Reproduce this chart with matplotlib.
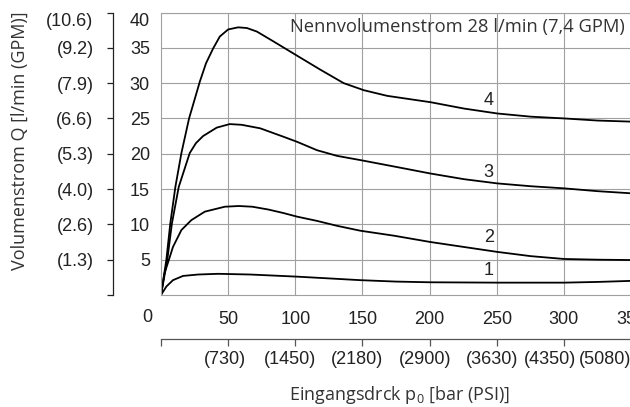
import matplotlib.pyplot as plt
import matplotlib.transforms as mtransforms

# pressure in bar, flow in l/min
curve_4_x = [0, 4.0, 6.9, 10.7, 15.2, 20.9, 28.9, 33.5, 38.8, 43.8, 50, 57.5, 64, 71.4,
             83.8, 101.2, 118.7, 136, 151, 168.4, 200.7, 225.6, 250.5, 275.4, 300.2,
             325.2, 350]
curve_4_y = [0, 5.0, 10.1, 15.3, 20.1, 25.0, 30.2, 32.8, 34.9, 36.6, 37.6, 37.9, 37.8, 37.3,
             35.9, 33.9, 31.9, 30.0, 29.0, 28.2, 27.3, 26.4, 25.7, 25.25, 25.0,
             24.7, 24.55]

curve_3_x = [0, 4.7, 8.1, 13.2, 21.4, 26, 31.3, 41.5, 51.2, 60, 73.9, 91.3, 101.2, 116.2,
             131.1, 148.5, 173.4, 200.7, 225.6, 250.5, 275.4, 300.2, 325.2, 350]
curve_3_y = [0, 5.0, 10.1, 15.3, 20.1, 21.5, 22.5, 23.7, 24.2, 24.1, 23.6, 22.4, 21.7, 20.5,
             19.7, 19.1, 18.2, 17.2, 16.4, 15.8, 15.4, 15.1, 14.7, 14.4]

curve_2_x = [0, 2.5, 5.9, 8.9, 15.2, 22.6, 32.6, 47.5, 58, 68, 80, 91.3, 101.2, 116,
             131, 148.5, 173.4, 200.7, 225.6, 250.5, 275.4, 300.2, 325.2, 350]
curve_2_y = [0, 3.0, 5.0, 6.8, 9.2, 10.6, 11.8, 12.5, 12.6, 12.5, 12.1, 11.6, 11.1, 10.5,
             9.8, 9.1, 8.4, 7.5, 6.8, 6.1, 5.5, 5.1, 5.0, 4.95]

curve_1_x = [0, 4.0, 8.9, 16.4, 27.6, 42.5, 66.5, 101.2, 125, 148.5, 175, 200.7, 250.5,
             300.2, 325, 350]
curve_1_y = [0, 1.2, 2.1, 2.7, 2.9, 3.0, 2.9, 2.6, 2.35, 2.1, 1.9, 1.8, 1.75,
             1.75, 1.85, 2.0]

curves = [(curve_1_x, curve_1_y), (curve_2_x, curve_2_y),
          (curve_3_x, curve_3_y), (curve_4_x, curve_4_y)]
curve_names = ['1', '2', '3', '4']
curve_label_pos = [(244, 3.4), (244, 8.1), (244, 17.4), (244, 27.6)]

bar_ticks = [50, 100, 150, 200, 250, 300, 350]
psi_labels = ['(730)', '(1450)', '(2180)', '(2900)', '(3630)', '(4350)', '(5080)']
psi_label_x = [47.8, 96.3, 146.3, 197, 246.8, 289.6, 330.6]

lpm_ticks = [5, 10, 15, 20, 25, 30, 35, 40]
gpm_labels = ['(1.3)', '(2.6)', '(4.0)', '(5.3)', '(6.6)', '(7.9)', '(9.2)', '(10.6)']

num_font = ['Liberation Sans', 'DejaVu Sans']
txt_font = ['Open Sans', 'DejaVu Sans']
grid_c = '#a0a0a0'
dark = '#222222'

fig = plt.figure(figsize=(6.3, 4.07), dpi=100)
ax = fig.add_axes([161 / 630, 1 - 295 / 407, 470 / 630, 282.5 / 407])

for cx, cy in curves:
    ax.plot(cx, cy, color='black', lw=1.3, solid_joinstyle='round')
for name, (lx, ly) in zip(curve_names, curve_label_pos):
    ax.text(lx, ly, name, ha='center', va='center', fontsize=13,
            family=num_font, color=dark)

ax.set_xlim(0, 350)
ax.set_ylim(0, 40)
ax.set_xticks(bar_ticks)
ax.set_xticklabels([str(t) for t in bar_ticks], family=num_font, fontsize=13, color=dark)
ax.set_yticks(lpm_ticks)
ax.set_yticklabels([str(t) for t in lpm_ticks], family=num_font, fontsize=13, color=dark)
ax.tick_params(axis='x', length=0, pad=11.5)
ax.tick_params(axis='y', length=0, pad=8)
ax.get_yticklabels()[-1].set_va('top')
ax.grid(True, color=grid_c, lw=0.8)
for sp in ax.spines.values():
    sp.set_color(grid_c)
    sp.set_linewidth(0.8)

ax.annotate('0', xy=(0, 0), xytext=(-10, -16.5), textcoords='offset points',
            ha='center', va='center', fontsize=13, family=num_font, color=dark)

ax.text(345, 37.9, 'Nennvolumenstrom 28 l/min (7,4 GPM)', ha='right', va='center',
        fontsize=13.2, family=txt_font, color='#333333')

# GPM scale on the left
sec_y = ax.secondary_yaxis(-48 / 470)
sec_y.set_yticks([0] + lpm_ticks)
sec_y.set_yticklabels([''] + gpm_labels, family=num_font, fontsize=13, color=dark)
sec_y.tick_params(axis='y', length=4, width=0.9, color=dark, pad=10)
sec_y.spines['left'].set_color(dark)
sec_y.spines['left'].set_linewidth(0.9)
sec_y.get_yticklabels()[-1].set_va('top')

# PSI scale below
sec_x = ax.secondary_xaxis(-44 / 282.5)
sec_x.set_xticks([0] + bar_ticks)
sec_x.set_xticklabels([''] * (len(bar_ticks) + 1))
sec_x.tick_params(axis='x', length=5, width=0.9, color='#555555')
sec_x.spines['bottom'].set_color('#555555')
sec_x.spines['bottom'].set_linewidth(0.9)
trans = mtransforms.blended_transform_factory(ax.transData, ax.transAxes)
for lx, lab in zip(psi_label_x, psi_labels):
    ax.text(lx, -65 / 282.5, lab, transform=trans, ha='center', va='center',
            fontsize=13, family=num_font, color=dark)

fig.text(20 / 630, 1 - 141 / 407, 'Volumenstrom Q [l/min (GPM)]', rotation=90,
         ha='center', va='center', fontsize=13, family=txt_font, color='#333333')
fig.text(400 / 630, 1 - 395 / 407, 'Eingangsdrck p$_\\mathregular{0}$ [bar (PSI)]',
         ha='center', va='center', fontsize=13, family=txt_font, color='#333333')

fig.savefig('out.png', dpi=100)
